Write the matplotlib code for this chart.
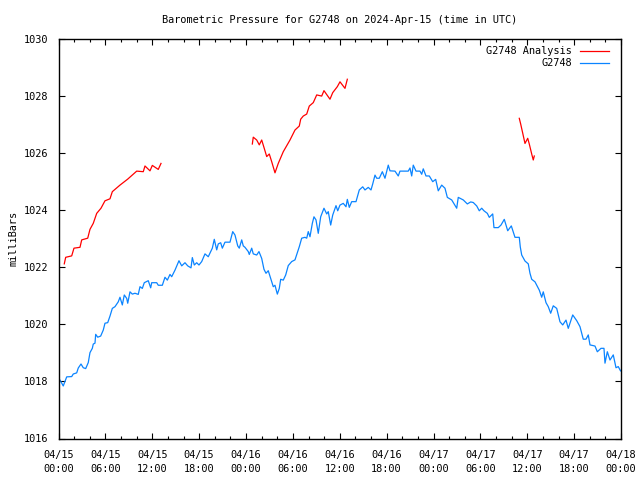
import numpy as np
import matplotlib
matplotlib.use("Agg")
import matplotlib.pyplot as plt

# hours since 2024-04-15 00:00 UTC, pressure in millibars
obs_hours = [0.00, 0.19, 0.61, 1.05, 1.69, 1.89, 2.33, 2.53, 2.88, 3.17, 3.48, 3.81, 4.03, 4.33, 4.45, 4.67,
             4.76, 5.02, 5.40, 5.73, 5.95, 6.30, 6.59, 6.89, 7.23, 7.65, 7.87, 8.17, 8.42, 8.73, 8.86, 9.15,
             9.45, 9.79, 10.21, 10.43, 10.73, 10.98, 11.49, 11.80, 11.93, 12.57, 12.77, 13.29, 13.63, 13.93,
             14.27, 14.49, 14.91, 15.42, 15.77, 16.19, 16.54, 16.96, 17.13, 17.38, 17.69, 17.98, 18.33, 18.75,
             19.17, 19.69, 19.94, 20.25, 20.45, 20.76, 20.97, 21.31, 21.95, 22.30, 22.59, 22.94, 23.14, 23.45,
             23.65, 23.87, 24.29, 24.42, 24.73, 24.93, 25.37, 25.66, 26.01, 26.30, 26.56, 26.85, 27.16, 27.49,
             27.71, 28.01, 28.26, 28.44, 28.77, 29.08, 29.41, 29.85, 30.27, 30.57, 30.82, 31.13, 31.55, 31.77,
             31.97, 32.19, 32.49, 32.70, 32.96, 33.25, 33.56, 33.98, 34.33, 34.53, 34.84, 35.10, 35.52, 35.74,
             36.03, 36.45, 36.80, 36.97, 37.22, 37.53, 38.08, 38.50, 38.94, 39.23, 39.65, 40.00, 40.22, 40.51,
             40.73, 41.06, 41.45, 41.79, 42.21, 42.43, 43.07, 43.49, 43.71, 44.77, 44.99, 45.21, 45.41, 45.76,
             46.27, 46.49, 46.69, 47.04, 47.46, 47.90, 48.28, 48.61, 49.05, 49.47, 49.77, 50.33, 50.97, 51.17,
             51.81, 52.33, 52.76, 53.09, 53.53, 53.86, 54.17, 54.46, 54.89, 55.14, 55.58, 55.74, 56.29, 56.64,
             57.06, 57.50, 57.96, 58.43, 58.98, 59.11, 59.29, 59.71, 60.13, 60.35, 60.57, 60.99, 61.54, 61.85,
             62.05, 62.40, 62.69, 63.00, 63.33, 63.77, 64.19, 64.54, 64.96, 65.25, 65.82, 66.33, 66.75, 67.17,
             67.52, 67.81, 68.03, 68.67, 68.97, 69.44, 69.82, 69.95, 70.25, 70.59, 71.01, 71.36, 71.65, 71.94]
obs_mb = [1017.95, 1018.05, 1017.84, 1018.16, 1018.17, 1018.26, 1018.30, 1018.47, 1018.61, 1018.48, 1018.45,
          1018.66, 1019.01, 1019.16, 1019.31, 1019.34, 1019.65, 1019.55, 1019.59, 1019.80, 1020.04, 1020.06,
          1020.29, 1020.56, 1020.62, 1020.79, 1020.95, 1020.68, 1021.03, 1020.91, 1020.74, 1021.14, 1021.06,
          1021.09, 1021.05, 1021.32, 1021.26, 1021.46, 1021.53, 1021.28, 1021.46, 1021.46, 1021.37, 1021.37,
          1021.65, 1021.55, 1021.75, 1021.67, 1021.90, 1022.23, 1022.05, 1022.16, 1022.05, 1021.98, 1022.34,
          1022.08, 1022.16, 1022.08, 1022.20, 1022.47, 1022.37, 1022.67, 1022.98, 1022.61, 1022.82, 1022.86,
          1022.67, 1022.88, 1022.88, 1023.25, 1023.13, 1022.75, 1022.67, 1022.96, 1022.75, 1022.70, 1022.55,
          1022.45, 1022.67, 1022.47, 1022.43, 1022.55, 1022.31, 1021.93, 1021.79, 1021.88, 1021.61, 1021.32,
          1021.37, 1021.06, 1021.26, 1021.58, 1021.55, 1021.73, 1022.06, 1022.20, 1022.26, 1022.51, 1022.72,
          1023.02, 1023.05, 1023.02, 1023.25, 1023.07, 1023.54, 1023.77, 1023.66, 1023.19, 1023.77, 1024.07,
          1023.87, 1023.95, 1023.48, 1023.83, 1024.16, 1023.98, 1024.18, 1024.24, 1024.12, 1024.38, 1024.10,
          1024.30, 1024.30, 1024.71, 1024.82, 1024.71, 1024.80, 1024.71, 1024.92, 1025.23, 1025.12, 1025.12,
          1025.35, 1025.12, 1025.58, 1025.38, 1025.37, 1025.20, 1025.37, 1025.37, 1025.48, 1025.20, 1025.58,
          1025.37, 1025.37, 1025.26, 1025.45, 1025.20, 1025.20, 1025.00, 1025.08, 1024.68, 1024.88, 1024.77,
          1024.45, 1024.36, 1024.07, 1024.45, 1024.36, 1024.22, 1024.29, 1024.27, 1024.15, 1023.98, 1024.07,
          1023.98, 1023.89, 1023.75, 1023.87, 1023.39, 1023.39, 1023.48, 1023.68, 1023.28, 1023.45, 1023.05,
          1023.05, 1022.71, 1022.43, 1022.22, 1022.12, 1021.79, 1021.58, 1021.49, 1021.20, 1020.95, 1021.14,
          1020.76, 1020.62, 1020.39, 1020.65, 1020.56, 1020.09, 1019.98, 1020.15, 1019.86, 1020.33, 1020.13,
          1019.92, 1019.48, 1019.48, 1019.63, 1019.28, 1019.24, 1019.04, 1019.16, 1019.16, 1018.64, 1019.04,
          1018.75, 1018.93, 1018.48, 1018.52, 1018.37]

ana1_hours = [0.74, 0.92, 1.69, 1.98, 2.75, 2.97, 3.74, 4.03, 4.45, 4.89, 5.44, 5.95, 6.59, 6.89, 7.87,
              8.86, 10.01, 10.85, 11.07, 11.71, 12.01, 12.77, 13.12]
ana1_mb = [1022.12, 1022.35, 1022.40, 1022.67, 1022.70, 1022.96, 1023.02, 1023.33, 1023.54, 1023.89,
           1024.07, 1024.33, 1024.40, 1024.65, 1024.88, 1025.09, 1025.37, 1025.35, 1025.55, 1025.38,
           1025.57, 1025.43, 1025.64]
ana2_hours = [24.81, 24.93, 25.37, 25.70, 26.01, 26.30, 26.65, 26.98, 27.29, 27.71, 28.13, 28.77, 29.63,
              30.27, 30.82, 31.00, 31.33, 31.77, 32.10, 32.61, 33.05, 33.69, 33.98, 34.75, 35.10, 35.69,
              36.03, 36.67, 36.97]
ana2_mb = [1026.32, 1026.56, 1026.46, 1026.29, 1026.46, 1026.20, 1025.88, 1025.97, 1025.70, 1025.31,
           1025.64, 1026.05, 1026.46, 1026.81, 1026.95, 1027.19, 1027.30, 1027.37, 1027.65, 1027.77,
           1028.04, 1028.00, 1028.19, 1027.89, 1028.12, 1028.33, 1028.50, 1028.27, 1028.59]
ana3_hours = [58.98, 59.16, 59.42, 59.71, 60.06, 60.26, 60.57, 60.77, 60.90]
ana3_mb = [1027.22, 1027.02, 1026.70, 1026.34, 1026.52, 1026.32, 1025.97, 1025.76, 1025.90]

tick_hours = [0, 6, 12, 18, 24, 30, 36, 42, 48, 54, 60, 66, 72]
tick_labels = ["04/15\n00:00", "04/15\n06:00", "04/15\n12:00", "04/15\n18:00",
               "04/16\n00:00", "04/16\n06:00", "04/16\n12:00", "04/16\n18:00",
               "04/17\n00:00", "04/17\n06:00", "04/17\n12:00", "04/17\n18:00",
               "04/18\n00:00"]

plt.rcParams['font.family'] = ['DejaVu Sans Mono']
FS = 7.4

fig = plt.figure(figsize=(6.4, 4.8), dpi=100)
ax = fig.add_axes([58.5/640, 1 - 438.5/480, (621 - 58.5)/640, (438.5 - 39)/480])

red = '#ff0000'
blue = '#0a84ff'
lw = 0.9
ax.plot(ana1_hours, ana1_mb, color=red, lw=lw, label='G2748 Analysis')
ax.plot(ana2_hours, ana2_mb, color=red, lw=lw)
ax.plot(ana3_hours, ana3_mb, color=red, lw=lw)
ax.plot(obs_hours, obs_mb, color=blue, lw=lw, label='G2748')

ax.set_xlim(0, 72)
ax.set_ylim(1016, 1030)
ax.set_xticks(tick_hours)
ax.set_xticklabels(tick_labels, fontsize=FS, linespacing=1.45)
ax.set_xticks(np.arange(0, 73, 2), minor=True)
ax.set_yticks(np.arange(1016, 1031, 2))
ax.tick_params(axis='y', labelsize=FS, pad=7)
ax.tick_params(axis='both', which='major', direction='in', length=4, width=0.8,
               top=True, right=True, color='black')
ax.tick_params(axis='x', which='major', pad=8.5)
ax.tick_params(axis='x', which='minor', direction='in', length=2.2, width=0.8, top=True)
for s in ax.spines.values():
    s.set_linewidth(1.0)

ax.set_ylabel('milliBars', fontsize=FS, labelpad=4.5)
ax.set_title('Barometric Pressure for G2748 on 2024-Apr-15 (time in UTC)', fontsize=FS, pad=11.5)

ax.legend(loc='upper right', frameon=False, fontsize=FS, markerfirst=False,
          handlelength=2.8, handletextpad=0.8, labelspacing=0.2,
          borderpad=0, borderaxespad=0, bbox_to_anchor=(0.9787, 0.982))

fig.savefig('out.png', dpi=100)
